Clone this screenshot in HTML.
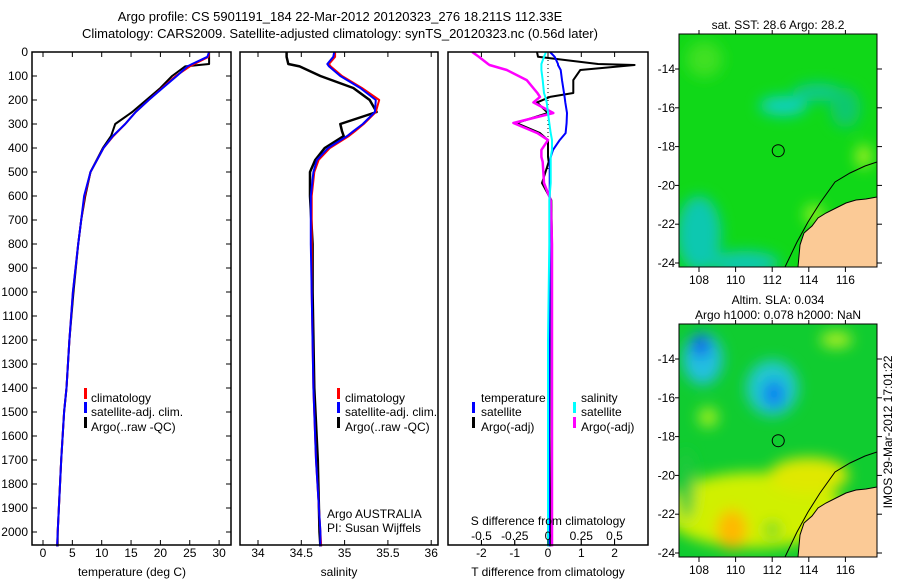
<!DOCTYPE html>
<html><head><meta charset="utf-8">
<style>
html,body{margin:0;padding:0;background:#fff;}
svg{display:block;font-family:"Liberation Sans",sans-serif;}
text{font-size:12px;fill:#000;}
</style></head>
<body>
<svg id="chart" width="900" height="580" viewBox="0 0 900 580" xmlns="http://www.w3.org/2000/svg">
<defs>
<clipPath id="clipTop"><rect x="679" y="34" width="198" height="233"/></clipPath>
<clipPath id="clipBot"><rect x="679" y="324" width="198" height="233"/></clipPath>
<filter id="blur" x="-50%" y="-50%" width="200%" height="200%"><feGaussianBlur stdDeviation="7"/></filter>
</defs>
<text x="340" y="21" text-anchor="middle" style="font-size:13px">Argo profile: CS 5901191_184 22-Mar-2012 20120323_276 18.211S 112.33E</text>
<text x="340" y="38" text-anchor="middle" style="font-size:13px">Climatology: CARS2009. Satellite-adjusted climatology: synTS_20120323.nc (0.56d later)</text>
<g id="plots"></g>
<g id="maps"></g>
<text transform="translate(892,432) rotate(-90)" text-anchor="middle">IMOS 29-Mar-2012 17:01:22</text>
</svg>
<script>
// ---------- data ----------
const depthT = [0, 20, 50, 60, 100, 150, 200, 250, 300, 350, 400, 500, 600, 700, 800, 1000, 1200, 1400, 1500, 1700, 2000, 2060];
const tempClim = [28.3, 28.2, 25.8, 25.0, 22.6, 20.3, 18.0, 15.8, 14.0, 12.0, 10.3, 8.1, 7.1, 6.5, 6.0, 5.1, 4.5, 4.0, 3.6, 3.1, 2.5, 2.4];
const tempSat = [28.3, 28.0, 25.4, 24.6, 22.8, 20.4, 18.0, 15.8, 14.0, 11.9, 10.3, 8.1, 7.0, 6.5, 6.0, 5.1, 4.5, 4.0, 3.6, 3.1, 2.5, 2.4];
const tempArgo = [28.3, 28.3, 28.3, 24.2, 22.0, 20.0, 17.6, 15.2, 12.3, 11.6, 10.2, 8.1, 7.2, 6.5, 6.0, 5.2, 4.5, 4.0, 3.6, 3.1, 2.5, 2.5];
const depthS = [0, 20, 50, 60, 100, 150, 200, 250, 300, 330, 350, 400, 450, 500, 600, 800, 1000, 1400, 1700, 2000, 2060];
const salClim = [34.89, 34.89, 34.82, 34.84, 34.97, 35.20, 35.40, 35.36, 35.22, 35.12, 35.05, 34.83, 34.70, 34.65, 34.62, 34.62, 34.62, 34.64, 34.67, 34.72, 34.73];
const salSat = [34.88, 34.87, 34.80, 34.82, 34.95, 35.18, 35.36, 35.35, 35.21, 35.10, 35.03, 34.81, 34.68, 34.64, 34.61, 34.61, 34.62, 34.64, 34.67, 34.72, 34.72];
const salArgo = [34.33, 34.33, 34.35, 34.48, 34.72, 35.10, 35.29, 35.37, 34.95, 34.97, 34.99, 34.77, 34.66, 34.60, 34.60, 34.63, 34.63, 34.65, 34.69, 34.71, 34.72];
const depthD = [0, 20, 50, 54, 75, 117, 171, 187, 210, 254, 296, 338, 367, 408, 437, 458, 546, 617, 800, 1200, 1600, 2060];
const dTsat = [0.06, 0.2, 0.3, 0.3, 0.38, 0.42, 0.48, 0.5, 0.52, 0.57, 0.56, 0.53, 0.35, 0.15, 0.08, 0.05, 0.05, 0.05, 0.05, 0.04, 0.03, 0.03];
const dTargo = [-0.33, -0.3, 1.5, 2.6, 0.97, 0.76, 0.76, 0.06, -0.33, 0.0, -0.95, -0.24, 0.0, 0.0, 0.0, 0.02, -0.18, 0.1, 0.12, 0.1, 0.1, 0.08];
const dSsat = [-0.015, -0.03, -0.05, -0.05, -0.05, -0.04, -0.03, -0.02, -0.01, 0.0, 0.01, 0.02, 0.03, 0.03, 0.02, 0.02, 0.02, 0.01, 0.01, 0.0, 0.0, 0.0];
const dSargo = [-0.57, -0.52, -0.45, -0.44, -0.31, -0.16, -0.08, -0.06, -0.11, 0.04, -0.26, -0.08, 0.0, -0.05, -0.05, -0.04, -0.03, 0.02, 0.03, 0.03, 0.03, 0.03];
const depthTicks = [0,100,200,300,400,500,600,700,800,900,1000,1100,1200,1300,1400,1500,1600,1700,1800,1900,2000];
const tTicks = [0,5,10,15,20,25,30];
const sTicks = [34,34.5,35,35.5,36];
const dTTicks = [-2,-1,0,1,2];
const dSTicks = [-0.5,-0.25,0,0.25,0.5];
const lonTicks = [108,110,112,114,116];
const latTicks = [14,16,18,20,22,24];
const argoLon = 112.33, argoLat = 18.211;

// ---------- scales ----------
const yD = d => 52 + d*0.24;
const xT = t => 43 + t*5.87;
const xS = s => 258 + (s-34)*86.6;
const xDT = v => 548 + v*33.3;
const xDS = v => 548 + v*133;
const NS = "http://www.w3.org/2000/svg";
function el(tag, attrs, parent){ const e=document.createElementNS(NS,tag); for(const k in attrs) e.setAttribute(k,attrs[k]); parent.appendChild(e); return e; }
function txt(x,y,s,anchor,parent){ const t=el('text',{x:x,y:y,'text-anchor':anchor||'start'},parent); t.textContent=s; return t; }
const plots = document.getElementById('plots');

function line(xs, ds, sx, color, w, name, dash){
  const pts = xs.map((v,i)=>sx(v).toFixed(1)+','+yD(ds[i]).toFixed(1)).join(' ');
  const p = el('polyline',{points:pts,fill:'none',stroke:color,'stroke-width':w,'stroke-linejoin':'round'},plots);
  if(dash) p.setAttribute('stroke-dasharray',dash);
  
  
}
function box(x0,x1,name){
  const r = el('rect',{x:x0,y:52,width:x1-x0,height:493,fill:'none',stroke:'#000','stroke-width':1.5},plots);
  
  
}
function xticks(ticks, sx, labY){
  ticks.forEach(t=>{
    const x=sx(t);
    el('line',{x1:x,y1:52,x2:x,y2:57,stroke:'#000'},plots);
    el('line',{x1:x,y1:545,x2:x,y2:540,stroke:'#000'},plots);
    const l = txt(x,labY,String(t),'middle',plots);
    
    
  });
}
function legendBar(x,y,color){ el('rect',{x:x,y:y-10,width:3,height:11,fill:color},plots); }

// panel 1: temperature
depthTicks.forEach(d=>{
  const y=yD(d);
  el('line',{x1:32,y1:y,x2:37,y2:y,stroke:'#000'},plots);
  el('line',{x1:231,y1:y,x2:226,y2:y,stroke:'#000'},plots);
  const l = txt(28,y+4,String(d),'end',plots);
  
  
});
line(tempArgo, depthT, xT, '#000', 2, 'temp-argo-line');
line(tempClim, depthT, xT, '#f00', 2, 'temp-climatology-line');
line(tempSat, depthT, xT, '#00f', 2, 'temp-satellite-line');
box(32,231,'temperature-panel');
xticks(tTicks, xT, 557);
txt(132,576,'temperature (deg C)','middle',plots);
legendBar(84,398,'#f00'); txt(91,402,'climatology','start',plots);
legendBar(84,412,'#00f'); txt(91,416,'satellite-adj. clim.','start',plots);
legendBar(84,427,'#000'); txt(91,431,'Argo(..raw -QC)','start',plots);

// panel 2: salinity
line(salArgo, depthS, xS, '#000', 2.5, 'salinity-argo-line');
line(salClim, depthS, xS, '#f00', 2, 'salinity-climatology-line');
line(salSat, depthS, xS, '#00f', 2, 'salinity-satellite-line');
box(240,438,'salinity-panel');
xticks(sTicks, xS, 557);
txt(339,576,'salinity','middle',plots);
legendBar(337,398,'#f00'); txt(345,402,'climatology','start',plots);
legendBar(337,412,'#00f'); txt(345,416,'satellite-adj. clim.','start',plots);
legendBar(337,427,'#000'); txt(345,431,'Argo(..raw -QC)','start',plots);
txt(327,518,'Argo AUSTRALIA','start',plots);
txt(327,532,'PI: Susan Wijffels','start',plots);

// panel 3: differences
el('line',{x1:548,y1:52,x2:548,y2:yD(500),stroke:'#000','stroke-dasharray':'1,3'},plots);
line(dTargo, depthD, xDT, '#000', 2, 'tdiff-argo-line');
line(dTsat, depthD, xDT, '#00f', 2, 'tdiff-satellite-line');
line(dSargo, depthD, xDS, '#f0f', 2.5, 'sdiff-argo-line');
line(dSsat, depthD, xDS, '#0ff', 2, 'sdiff-satellite-line');
box(448,648,'difference-panel');
xticks(dTTicks, xDT, 557);
dSTicks.forEach(t=>{ const x=xDS(t); el('line',{x1:x,y1:540,x2:x,y2:545,stroke:'#000'},plots); txt(x,540,String(t),'middle',plots); });
txt(548,525,'S difference from climatology','middle',plots);
txt(548,576,'T difference from climatology','middle',plots);
txt(481,402,'temperature','start',plots);
txt(581,402,'salinity','start',plots);
legendBar(472,412,'#00f'); txt(481,416,'satellite','start',plots);
legendBar(472,427,'#000'); txt(481,431,'Argo(-adj)','start',plots);
legendBar(573,412,'#0ff'); txt(581,416,'satellite','start',plots);
legendBar(573,427,'#f0f'); txt(581,431,'Argo(-adj)','start',plots);

// ---------- maps ----------
const maps = document.getElementById('maps');
const lonX = lon => 699 + (lon-108)*18.3;
function drawMap(oy, clip, base, blobs, title, name){
  const g = el('g',{},maps);
  
  
  const latY = lat => oy + 35 + (lat-14)*19.4;
  const cg = el('g',{'clip-path':'url(#'+clip+')'},g);
  el('rect',{x:679,y:oy,width:198,height:233,fill:base},cg);
  const bg = el('g',{filter:'url(#blur)'},cg);
  blobs.forEach(b=>el('ellipse',{cx:lonX(b[0]),cy:latY(b[1]),rx:b[2],ry:b[3],fill:b[4]},bg));
  const o = oy-34;
  const land = [[798,267],[800,245],[804,233],[812,226],[818,218],[826,213],[836,208],[846,203],[856,200],[866,199],[877,197]];
  el('polygon',{points:land.concat([[877,267]]).map(p=>p[0]+','+(p[1]+o)).join(' '),fill:'#fbca96'},cg);
  el('polyline',{points:[[785,267],[797,242],[808,222],[820,203],[835,182],[850,173],[865,166],[877,162]].map(p=>p[0]+','+(p[1]+o)).join(' '),fill:'none',stroke:'#000','stroke-width':1},cg);
  el('polyline',{points:land.map(p=>p[0]+','+(p[1]+o)).join(' '),fill:'none',stroke:'#000','stroke-width':1},cg);
  const c = el('circle',{cx:lonX(argoLon),cy:latY(argoLat),r:6,fill:'none',stroke:'#000'},g);
  
  
  el('rect',{x:679,y:oy,width:198,height:233,fill:'none',stroke:'#000'},g);
  lonTicks.forEach(l=>{ const x=lonX(l); el('line',{x1:x,y1:oy,x2:x,y2:oy-4,stroke:'#000'},g); el('line',{x1:x,y1:oy+233,x2:x,y2:oy+238,stroke:'#000'},g); txt(x,oy+250,String(l),'middle',g); });
  latTicks.forEach(l=>{ const y=latY(l); el('line',{x1:877,y1:y,x2:882,y2:y,stroke:'#000'},g); el('line',{x1:679,y1:y,x2:675,y2:y,stroke:'#000'},g); txt(675,y+4,'-'+l,'end',g); });
  title.forEach((t,i)=>txt(778,oy-(title.length-i-1)*15-5,t,'middle',g));
}
drawMap(34,'clipTop','#10d818',[
  [112.6,15.9,24,10,'#10d0c0'],[114.5,15.2,25,9,'#10c890'],[108,22.5,22,38,'#10c8b0'],[110.5,24,35,12,'#10c8b0'],
  [108.3,13.5,18,18,'#40e020'],[117,18.5,8,12,'#a0f020'],[114.3,21.5,10,10,'#90f020'],[116,16,15,20,'#10c870']
],['sat. SST: 28.6 Argo: 28.2'],'sst-map');
drawMap(324,'clipBot','#10cc30',[
  [111,21.8,90,38,'#d0f000'],[114,20,40,18,'#e0e800'],[109.8,22.8,15,20,'#ffb800'],
  [108.2,14,20,26,'#20c0e0'],[108.1,13.3,9,12,'#1060e8'],[112,15.5,26,28,'#20c8d0'],[112.1,15.8,11,14,'#1080f0'],
  [115.5,13,16,8,'#b0f020'],[107.3,20.5,8,35,'#20c840'],[112,22.8,8,8,'#60d820'],[108.5,17,10,10,'#a0f020']
],['Altim. SLA: 0.034','Argo h1000: 0.078 h2000: NaN'],'sla-map');
</script>
</body></html>
